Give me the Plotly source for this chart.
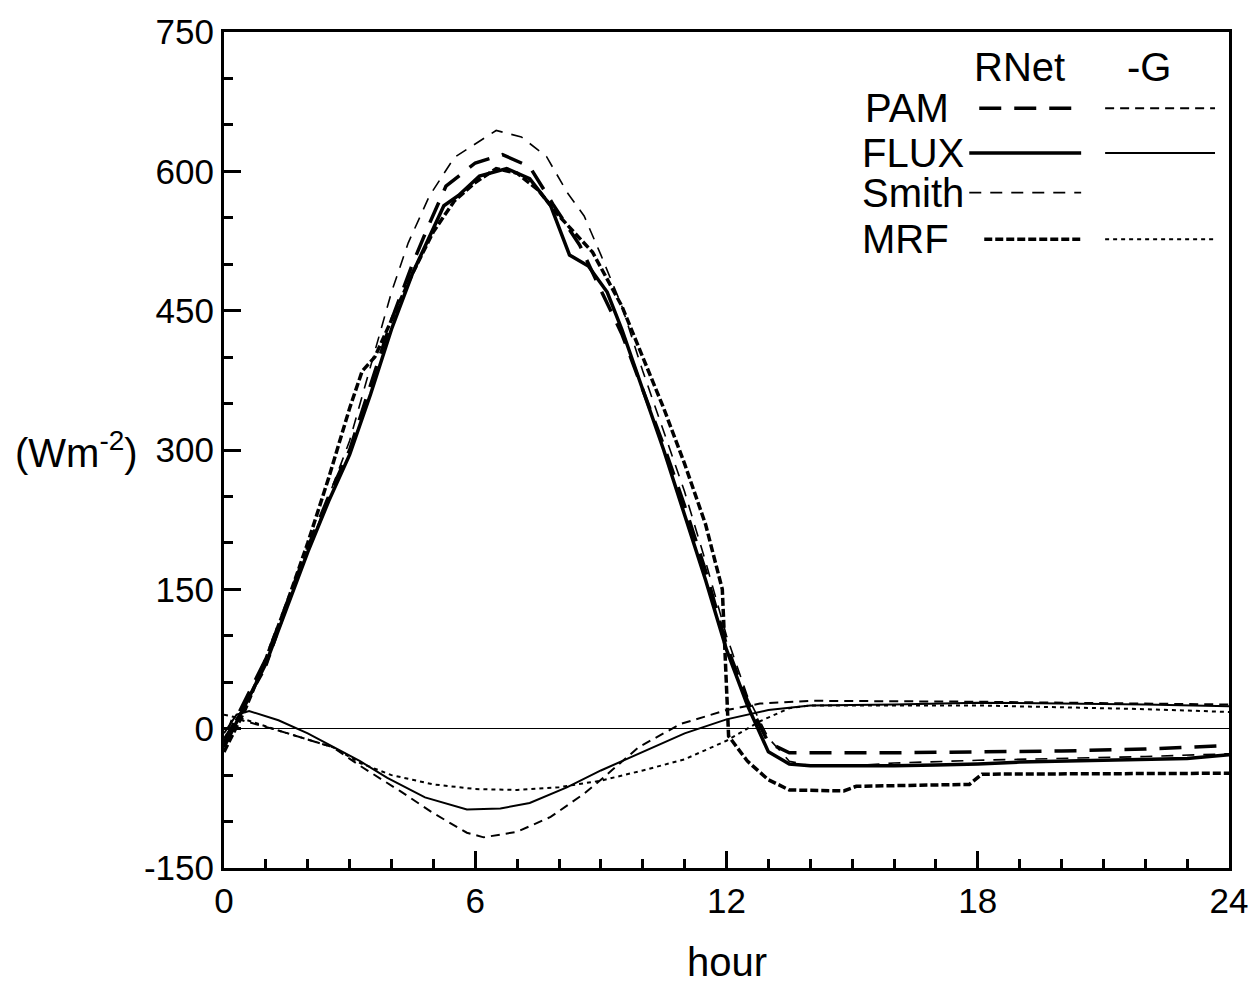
import plotly.graph_objects as go

# ---------------- data ----------------
flux_rnet_h = [0, 0.5, 1, 1.5, 2, 2.5, 3, 3.5, 4, 4.5, 5, 5.25, 5.6, 6.1, 6.75, 7.3, 7.8, 8.25, 8.7, 9.15, 9.5, 10, 10.5, 11, 11.5, 12, 12.5, 13, 13.5, 14, 15, 16, 17, 18, 19, 20, 21, 22, 23, 24]
flux_rnet_v = [-20, 25, 70, 130, 190, 245, 295, 360, 430, 490, 540, 563, 574, 595, 603, 592, 563, 510, 498, 470, 430, 365, 300, 230, 160, 85, 25, -25, -38, -40, -40, -40, -39, -38, -36, -35, -34, -33, -32, -28]

pam_rnet_h = [0, 0.5, 1, 1.5, 2, 2.5, 3, 3.5, 4, 4.5, 4.85, 5.3, 6.0, 6.65, 7.3, 7.85, 8.5, 9, 9.5, 10, 10.5, 11, 11.5, 12, 12.5, 13, 13.5, 14, 16, 18, 20, 22, 24]
pam_rnet_v = [-15, 30, 75, 135, 195, 250, 300, 370, 440, 500, 538, 584, 609, 618, 605, 565, 520, 472, 425, 365, 305, 240, 170, 90, 30, -15, -26, -26, -26, -25, -24, -22, -18]

smith_rnet_h = [0, 0.5, 1, 1.5, 2, 2.5, 3, 3.5, 4, 4.4, 4.9, 5.5, 6.5, 7.1, 7.7, 8.2, 8.6, 9, 9.5, 10, 10.5, 11, 11.5, 12, 12.5, 13, 13.5, 14, 15, 16, 18, 20, 22, 24]
smith_rnet_v = [-10, 25, 65, 130, 190, 250, 310, 390, 470, 523, 573, 615, 644, 637, 616, 577, 552, 510, 455, 385, 320, 255, 180, 100, 35, -10, -35, -40, -40, -37, -34, -32, -30, -27]

mrf_rnet_h = [0, 0.5, 1, 1.5, 2, 2.5, 3, 3.3, 3.6, 4, 4.5, 5, 5.5, 6, 6.5, 7, 7.5, 8, 8.8, 9.5, 10, 10.5, 11, 11.5, 11.9, 12.05, 12.5, 13, 13.5, 14.8, 15.1, 17.8, 18.1, 24]
mrf_rnet_v = [-25, 20, 75, 135, 200, 270, 345, 385, 400, 440, 490, 535, 568, 588, 603, 598, 580, 552, 513, 455, 400, 345, 285, 220, 150, -8, -35, -55, -66, -67, -62, -60, -49, -48]

flux_g_h = [0, 0.3, 0.6, 1.3, 2, 3.25, 3.9, 4.8, 5.8, 6.6, 7.3, 8.2, 9, 10, 11, 12, 13, 14, 16, 18, 20, 22, 24]
flux_g_v = [-5, 15, 19, 9, -5, -35, -53, -74, -87, -86, -80, -63, -45, -25, -5, 10, 20, 25, 26, 28, 27, 26, 24]

pam_g_h = [0, 0.2, 1.3, 2.6, 3.25, 4.2, 5, 5.8, 6.2, 7, 7.8, 8.6, 9, 9.9, 10.9, 12, 12.8, 14, 18, 24]
pam_g_v = [-15, 12, -2, -20, -40, -67, -91, -112, -117, -111, -95, -70, -55, -20, 5, 20, 27, 30, 29, 26]

mrf_g_h = [0, 0.5, 1.3, 2.6, 3.25, 4, 4.5, 5, 6, 7, 8, 9, 10, 11, 12, 12.5, 12.8, 13.5, 14, 16, 18, 20, 22, 24]
mrf_g_v = [15, 10, -2, -20, -37, -50, -55, -60, -65, -66, -63, -56, -45, -33, -13, 0, 8, 22, 25, 25, 25, 23, 21, 18]

x_ticks = [0, 6, 12, 18, 24]
y_ticks = [-150, 0, 150, 300, 450, 600, 750]

FONT = "Liberation Sans, Arial, Helvetica, sans-serif"
TXT = 40

styles = {
    "pam_rnet": dict(color="black", width=3.5, dash="22px,13px"),
    "flux_rnet": dict(color="black", width=3.5),
    "smith_rnet": dict(color="black", width=1.6, dash="12px,9px"),
    "mrf_rnet": dict(color="black", width=3.5, dash="8px,3px"),
    "pam_g": dict(color="black", width=2, dash="9px,6px"),
    "flux_g": dict(color="black", width=2),
    "mrf_g": dict(color="black", width=2, dash="4px,4px"),
}

fig = go.Figure()
series = [
    ("smith_rnet", smith_rnet_h, smith_rnet_v),
    ("pam_g", pam_g_h, pam_g_v),
    ("mrf_g", mrf_g_h, mrf_g_v),
    ("flux_g", flux_g_h, flux_g_v),
    ("pam_rnet", pam_rnet_h, pam_rnet_v),
    ("mrf_rnet", mrf_rnet_h, mrf_rnet_v),
    ("flux_rnet", flux_rnet_h, flux_rnet_v),
]
for name, h, v in series:
    fig.add_trace(go.Scatter(x=h, y=v, mode="lines", line=styles[name], showlegend=False, hoverinfo="skip"))

# plot-area geometry (pixels)
L, R, T, B = 224, 1230, 25, 868
W, H = R - L, B - T

def px(x):
    return (x - L) / W

def py(y):
    return (B - y) / H

# legend
legend_rows = [("PAM", 102, "pam_rnet", "pam_g"),
               ("FLUX", 147, "flux_rnet", "flux_g"),
               ("Smith", 187, "smith_rnet", None),
               ("MRF", 234, "mrf_rnet", "mrf_g")]
label_x = {"PAM": 864, "FLUX": 861, "Smith": 861, "MRF": 861}
annotations = []
shapes = []
for lab, yy, rn, g in legend_rows:
    annotations.append(dict(text=lab, x=px(label_x[lab]), y=py(yy), xref="paper", yref="paper",
                            xanchor="left", yanchor="middle", showarrow=False,
                            font=dict(family=FONT, size=TXT, color="black")))
    rstart = 970 if lab in ("FLUX", "Smith") else 985 if lab == "MRF" else 980
    shapes.append(dict(type="line", xref="paper", yref="paper", x0=px(rstart), x1=px(1082),
                       y0=py(yy), y1=py(yy), line=styles[rn]))
    if g:
        shapes.append(dict(type="line", xref="paper", yref="paper", x0=px(1106), x1=px(1216),
                           y0=py(yy), y1=py(yy), line=styles[g]))
annotations.append(dict(text="RNet", x=px(1020), y=py(60), xref="paper", yref="paper",
                        showarrow=False, xanchor="center", yanchor="middle",
                        font=dict(family=FONT, size=TXT, color="black")))
annotations.append(dict(text="-G", x=px(1150), y=py(60), xref="paper", yref="paper",
                        showarrow=False, xanchor="center", yanchor="middle",
                        font=dict(family=FONT, size=TXT, color="black")))
annotations.append(dict(text="(Wm<sup>-2</sup>)", x=px(76), y=300, xref="paper", yref="y",
                        showarrow=False, xanchor="center", yanchor="middle",
                        font=dict(family=FONT, size=TXT, color="black")))
annotations.append(dict(text="hour", x=12, y=py(963), xref="x", yref="paper",
                        showarrow=False, xanchor="center", yanchor="middle",
                        font=dict(family=FONT, size=TXT, color="black")))

fig.update_layout(
    width=1260, height=986,
    margin=dict(l=L, r=1260 - R, t=T, b=986 - B),
    paper_bgcolor="white", plot_bgcolor="white",
    font=dict(family=FONT, size=35, color="black"),
    annotations=annotations, shapes=shapes,
)
fig.update_xaxes(range=[0, 24], tickvals=x_ticks, ticktext=[str(t) for t in x_ticks],
                 ticks="inside", ticklen=17, tickwidth=3, tickcolor="black",
                 minor=dict(ticks="inside", ticklen=9, tickwidth=2.5, dtick=1, tickcolor="black", showgrid=False),
                 showline=True, linecolor="black", linewidth=3, mirror=True,
                 showgrid=False, zeroline=False, tickfont=dict(family=FONT, size=35))
fig.update_yaxes(range=[-150, 750], tickvals=y_ticks, ticktext=[str(t) for t in y_ticks],
                 ticks="inside", ticklen=17, tickwidth=3, tickcolor="black",
                 minor=dict(ticks="inside", ticklen=9, tickwidth=2.5, dtick=50, tickcolor="black", showgrid=False),
                 showline=True, linecolor="black", linewidth=3, mirror=True,
                 showgrid=False, zeroline=True, zerolinecolor="black", zerolinewidth=1.2,
                 tickfont=dict(family=FONT, size=35))

fig.write_html("out.html")
